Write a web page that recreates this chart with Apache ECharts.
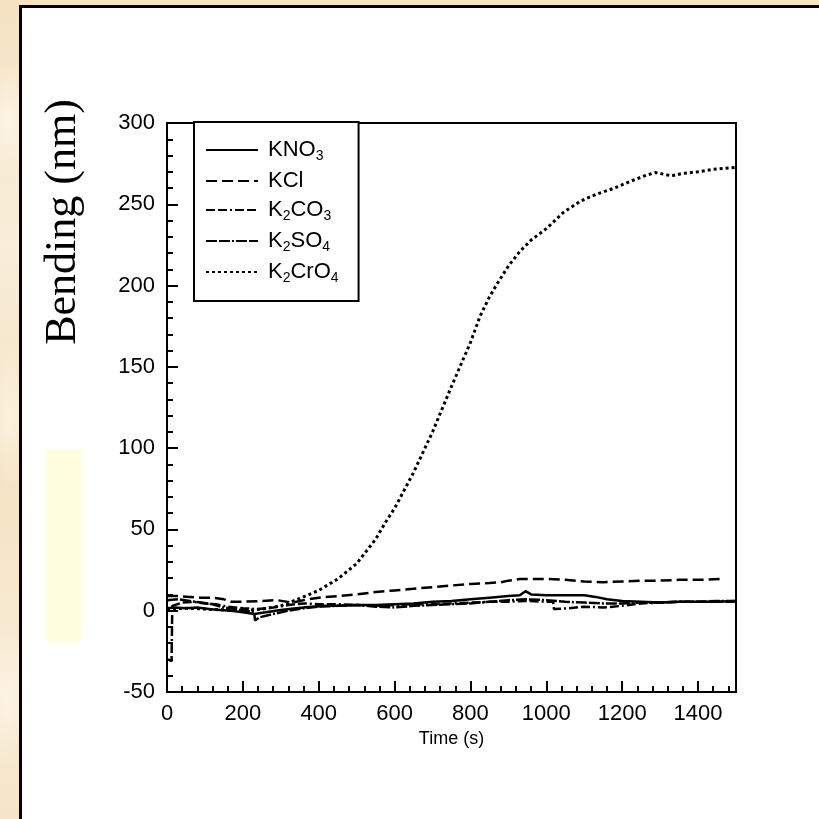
<!DOCTYPE html>
<html>
<head>
<meta charset="utf-8">
<script src="https://cdn.jsdelivr.net/npm/echarts@6/dist/echarts.min.js"></script>
<style>
  html, body { margin: 0; padding: 0; }
  body {
    width: 819px; height: 819px; overflow: hidden; position: relative;
    background-color: #f6e6c9;
    background-image:
      radial-gradient(ellipse 30px 60px at 8px 120px, rgba(255,250,238,0.7), rgba(255,250,238,0) 100%),
      radial-gradient(ellipse 30px 80px at 10px 420px, rgba(255,248,232,0.7), rgba(255,248,232,0) 100%),
      radial-gradient(ellipse 30px 70px at 6px 700px, rgba(255,250,238,0.6), rgba(255,250,238,0) 100%),
      linear-gradient(180deg, #f4e2c2 0%, #f9eedb 30%, #f3e1c0 55%, #f8ebd4 80%, #f5e5c8 100%);
  }
  #panel {
    position: absolute; left: 19px; top: 5px; right: -10px; bottom: -10px;
    background: #ffffff; border-left: 3px solid #000; border-top: 3px solid #000;
  }
  #chart { position: absolute; left: 0; top: 0; width: 819px; height: 819px; }
</style>
</head>
<body>
<div id="panel"></div>
<div id="chart"></div>
<script>
// Cantilever bending versus time for several potassium salts, [time (s), bending (nm)]
const kno3 = [[0,1.5],[20,2],[50,1.5],[80,2],[110,1],[140,0.5],[170,0],[200,-1],[230,-2],[260,-1],[300,0.5],[340,1.5],[380,2.5],[420,3],[460,3],[500,3.5],[550,3.5],[600,4],[650,4.5],[700,5.5],[750,6],[800,7],[850,8],[900,9],[930,9.5],[945,12],[960,10],[1000,9.5],[1050,9.5],[1100,9.5],[1130,8.5],[1160,7],[1200,6],[1250,5.5],[1300,5],[1350,5.5],[1400,5.5],[1450,5.5],[1500,6]];
const kcl = [[0,9],[30,9],[60,8.5],[90,8],[120,8],[150,7],[170,5.5],[200,5.5],[250,6],[290,6.5],[330,5],[370,7],[400,8],[450,9],[500,10],[550,11.5],[600,12.5],[650,13.5],[700,14.5],[750,15.5],[800,16.5],[850,17],[880,17.5],[900,18.5],[930,19.5],[960,19.5],[1000,19.5],[1050,19],[1100,18],[1150,17.5],[1200,18],[1250,18.5],[1300,18.5],[1350,19],[1400,19],[1460,19.5]];
const k2co3 = [[3,-30],[12,-31],[14,3],[40,5],[70,5.5],[100,4.5],[130,4],[160,2.5],[200,1.5],[240,1],[280,2],[320,3.5],[360,4.5],[400,4],[450,4],[500,3.5],[550,3],[600,3.5],[650,4],[700,4],[750,4.5],[800,5],[850,5.5],[900,5.5],[950,6],[1000,5.5],[1018,5.5],[1020,1],[1060,1.5],[1100,2.5],[1150,2],[1200,3],[1250,4.5],[1300,5],[1350,5.5],[1400,5.5],[1450,5.5],[1500,5.5]];
const k2so4 = [[0,6.5],[30,7],[60,6],[90,5],[120,4],[150,2],[180,1],[210,0],[230,-1],[232,-6],[245,-4],[280,-2],[320,0],[360,1.5],[400,2.5],[450,3],[500,3.5],[550,2.5],[600,2],[650,3],[700,3.5],[750,4],[800,4.5],[850,5.5],[900,6.5],[950,7],[1000,6.5],[1050,5.5],[1100,5],[1150,4.5],[1200,4.5],[1250,5],[1300,5],[1350,5.5],[1400,5.5],[1450,6],[1500,6]];
const k2cro4 = [[0,1],[50,1.5],[100,1],[150,0.5],[200,0],[250,1],[300,3],[350,7.5],[400,12.5],[450,19.5],[500,29],[550,44],[575,54],[600,63],[650,85],[700,110],[750,138],[800,165],[825,181],[850,193],[870,201],[900,212],[930,221],[960,228],[1000,235],[1045,245],[1090,252],[1130,256],[1180,260],[1220,264],[1265,268],[1287,269.5],[1310,268.5],[1330,267.5],[1360,269],[1400,270],[1440,271.5],[1500,272.7]];

const seriesNames = ['KNO{s|3}', 'KCl', 'K{s|2}CO{s|3}', 'K{s|2}SO{s|4}', 'K{s|2}CrO{s|4}'];
const seriesData = [kno3, kcl, k2co3, k2so4, k2cro4];
const dashTypes = ['solid', [11, 5], [9, 3, 9, 3, 2, 3], [11, 2, 11, 2, 2, 2], [3, 3]];

const yTicks = { min: -50, max: 300, step: 50 };
const xTicks = { min: 0, max: 1500, step: 200, minorStep: 40 };

const FONT = '"Liberation Sans", Arial, sans-serif';
const chart = echarts.init(document.getElementById('chart'), null, { renderer: 'canvas' });

const series = seriesData.map((d, i) => ({
  name: seriesNames[i],
  type: 'line',
  data: d,
  symbol: 'none',
  smooth: false,
  animation: false,
  color: '#000',
  itemStyle: { color: '#000' },
  lineStyle: { color: '#000', width: i === 4 ? 3 : 2.5, type: dashTypes[i], cap: 'butt' }
}));

chart.setOption({
  backgroundColor: 'transparent',
  animation: false,
  grid: { left: 167, top: 123, width: 569, height: 569, show: true, borderColor: '#000', borderWidth: 2, backgroundColor: 'transparent' },
  legend: {
    orient: 'vertical', left: 194, top: 122,
    padding: [17, 20, 16, 11],
    itemWidth: 52, itemHeight: 20, itemGap: 7,
    borderColor: '#000', borderWidth: 2, backgroundColor: '#fff',
    selectedMode: false,
    itemStyle: { opacity: 0, borderWidth: 0 },
    textStyle: {
      fontFamily: FONT, fontSize: 22, color: '#000', padding: [0, 0, 0, 5],
      rich: { s: { fontFamily: FONT, fontSize: 14, color: '#000', verticalAlign: 'bottom', padding: [12, 0, 0, 0] } }
    }
  },
  xAxis: [{
    type: 'value', min: xTicks.min, max: xTicks.max, interval: xTicks.step,
    name: 'Time (s)', nameLocation: 'middle', nameGap: 17,
    nameTextStyle: { fontFamily: FONT, fontSize: 18, color: '#000' },
    axisLine: { show: true, onZero: false, lineStyle: { color: '#000', width: 2 } },
    axisTick: { show: true, inside: true, length: 11, lineStyle: { color: '#000', width: 2 } },
    axisLabel: { fontFamily: FONT, fontSize: 22, color: '#000', margin: 11, showMaxLabel: false, formatter: v => String(v) },
    splitLine: { show: false }
  }, {
    type: 'value', position: 'bottom', min: xTicks.min, max: xTicks.max, interval: xTicks.minorStep,
    axisLine: { show: false, onZero: false },
    axisTick: { show: true, inside: true, length: 6, lineStyle: { color: '#000', width: 2 } },
    axisLabel: { show: false },
    splitLine: { show: false }
  }],
  yAxis: {
    type: 'value', min: yTicks.min, max: yTicks.max, interval: yTicks.step,
    axisLine: { show: true, onZero: false, lineStyle: { color: '#000', width: 2 } },
    axisTick: { show: true, inside: true, length: 11, lineStyle: { color: '#000', width: 2 } },
    minorTick: { show: true, splitNumber: 5, length: 6, lineStyle: { color: '#000', width: 2 } },
    axisLabel: { fontFamily: FONT, fontSize: 22, color: '#000', margin: 12 },
    splitLine: { show: false }
  },
  graphic: [
    { type: 'rect', left: 46, top: 450, shape: { width: 35, height: 191 }, style: { fill: '#fffedc' }, z: 0 },
    { type: 'text', x: 63, y: 222, rotation: Math.PI / 2,
      style: { text: 'Bending (nm)', font: '44px "Liberation Serif", "Times New Roman", serif', fill: '#000', textAlign: 'center', textVerticalAlign: 'middle' } }
  ],
  series: series
});
</script>
</body>
</html>
